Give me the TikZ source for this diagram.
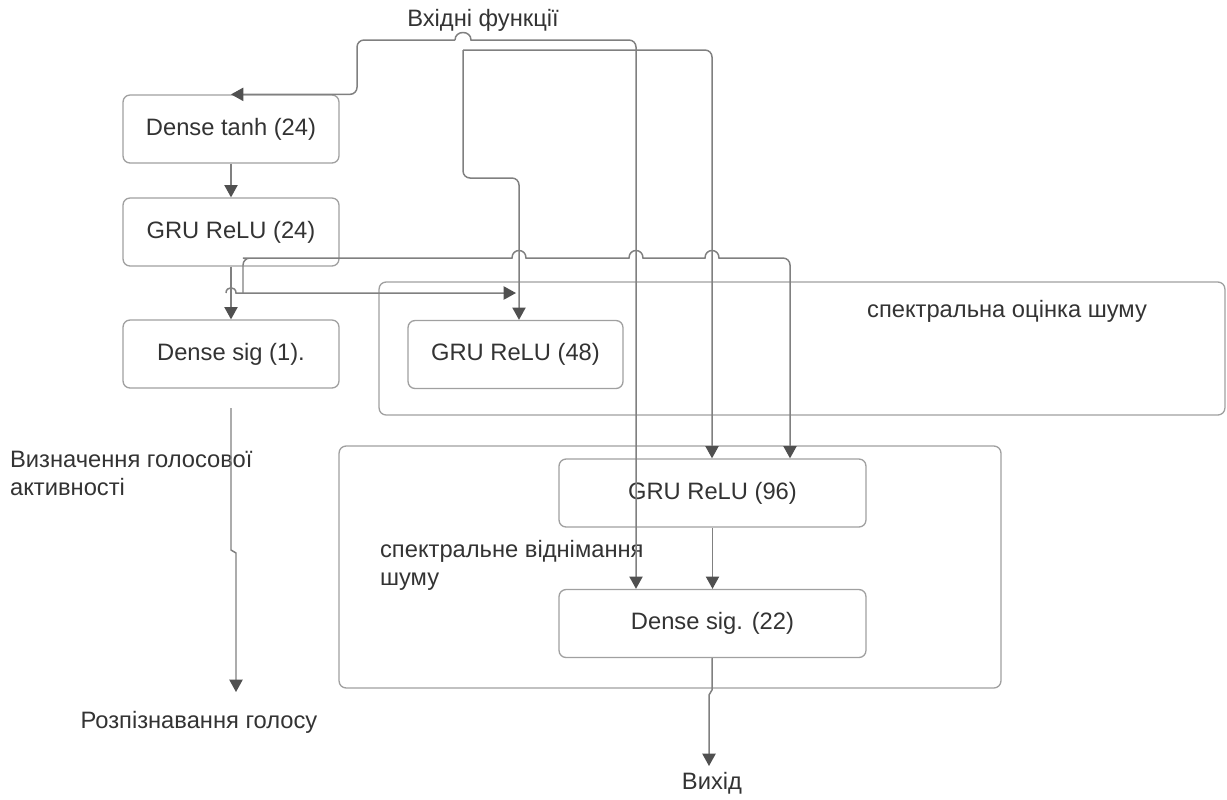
\documentclass[tikz,border=0pt]{standalone}
\usepackage{fontspec}
\setmainfont{Liberation Sans}
\usepackage{tikz}
\usetikzlibrary{shapes,arrows.meta,positioning,calc}
\definecolor{txtgray}{RGB}{51,51,51}
\definecolor{linegray}{RGB}{128,128,128}
\definecolor{boxgray}{RGB}{160,160,160}
\definecolor{tipgray}{RGB}{80,80,80}

\begin{document}
\begin{tikzpicture}[x=0.02cm, y=-0.02cm,
        box/.style={rectangle, draw=boxgray, line width=0.75pt,
                    rounded corners=4pt,
                    minimum width=4.32cm, minimum height=1.36cm,
                    align=center, fill=white, text=txtgray,
                    font=\fontsize{13.5pt}{16pt}\selectfont},
        group/.style={rectangle, draw=boxgray, line width=0.75pt,
                    rounded corners=4pt},
        arrow/.style={->, line width=0.85pt, draw=linegray,
                    rounded corners=4pt,
                    >={Triangle[length=7pt, width=7.5pt, color=tipgray]}},
        lbl/.style={text=txtgray, align=left, inner sep=1pt,
                    font=\fontsize{13.5pt}{16pt}\selectfont}]

        \useasboundingbox (0,0) rectangle (1227,799);

        % group frames
        \node[group, minimum width=16.92cm, minimum height=2.66cm]
            (est) at (802,348.5) {};
        \node[group, minimum width=13.24cm, minimum height=4.84cm]
            (sub) at (670,567) {};
        \node[lbl] (estlbl) at (1007,311) {спектральна оцінка шуму};
        \node[lbl, anchor=north west] (sublbl) at (378,538)
            {спектральне віднімання\\шуму};

        % left column
        \node[box] (dt) at (231,129) {Dense tanh (24)};
        \node[box] (g24) at (231,232) {GRU ReLU (24)};
        \node[box] (ds1) at (231,354) {Dense sig (1).};

        % noise estimation / subtraction
        \node[box, minimum width=4.3cm] (g48) at (515.5,354.5) {GRU ReLU (48)};
        \node[box, minimum width=6.14cm] (g96) at (712.5,493) {GRU ReLU (96)};
        \node[box, minimum width=6.14cm] (ds22) at (712.5,623.5) {Dense sig. (22)};

        % free labels
        \node[lbl] (in) at (483,20) {Вхідні функції};
        \node[lbl, anchor=north west] (vad) at (8,449)
            {Визначення голосової\\активності};
        \node[lbl] (rec) at (199,722) {Розпізнавання голосу};
        \node[lbl] (out) at (712,783) {Вихід};

        % connector end points
        \coordinate (inA) at (455,40);
        \coordinate (inB) at (463,50);
        \coordinate (hopS) at (226,293);
        \coordinate (br) at (243,293);
        \coordinate (j48) at (516,293);
        \coordinate (vadS) at (231,408);
        \coordinate (recIn) at (236,692);
        \coordinate (outIn) at (709,766);

        % input -> Dense tanh
        \draw[arrow] (inA) -- (357,40) |- (dt.north);

        % input -> Dense sig. (22)
        \draw[arrow] (inA) {[sharp corners] .. controls (455,30) and (471,30) .. (471,40)
            -- (629,40)} -- (636,40) -- (636,40 |- ds22.north);

        % input -> GRU ReLU (96)
        \draw[arrow] (inB) -- (712,50) -- (712,50 |- g96.north);

        % input -> GRU ReLU (48)
        \draw[arrow] (inB) -- (463,178) -- (519,178) -- (519,178 |- g48.north);

        % Dense tanh -> GRU ReLU (24) -> Dense sig (1)
        \draw[arrow] (dt) -- (g24);
        \draw[arrow] (g24) -- (ds1);

        % GRU ReLU (24) -> GRU ReLU (96)
        \draw[arrow] (br) -- (243,258) -- (250,258)
            {[sharp corners] -- (512,258)
            .. controls (512,248) and (526,248) .. (526,258) -- (629,258)
            .. controls (629,248) and (643,248) .. (643,258) -- (705,258)
            .. controls (705,248) and (719,248) .. (719,258) -- (783,258)}
            -- (790,258) -- (790,258 |- g96.north);

        % GRU ReLU (24) -> GRU ReLU (48)
        \draw[arrow, sharp corners] (hopS) .. controls (226,286) and (236,286) .. (236,293)
            -- (j48);

        % Dense sig (1) -> voice recognition
        \draw[arrow, sharp corners] (vadS) -- (231,550) -- (236,553) -- (recIn);

        % GRU ReLU (96) -> Dense sig. (22) -> output
        \draw[arrow] (g96) -- (ds22);
        \draw[arrow, sharp corners] (ds22) -- (712,690) -- (709,695) -- (outIn);

    \end{tikzpicture}
\end{document}
